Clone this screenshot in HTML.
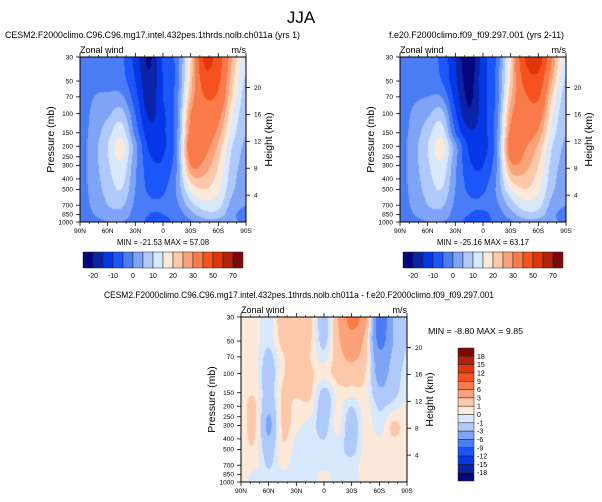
<!DOCTYPE html>
<html><head><meta charset="utf-8">
<style>
html,body{margin:0;padding:0;background:#fff;}
#wrap{position:relative;width:602px;height:502px;overflow:hidden;font-family:"Liberation Sans",Arial,sans-serif;}
canvas{position:absolute;}
svg{position:absolute;left:0;top:0;}
</style></head>
<body>
<div id="wrap">
<canvas id="c1" style="left:80px;top:57px" width="166" height="165"></canvas>
<canvas id="c2" style="left:400px;top:57px" width="166" height="165"></canvas>
<canvas id="c3" style="left:241px;top:317px" width="166" height="165"></canvas>
<svg id="ov" width="602" height="502"></svg>
</div>
<script>
// ---- data ----
const lats = [90,75,60,45,30,15,0,-15,-30,-45,-60,-75,-90];
const levels = [30,50,70,100,150,200,300,500,700,850,1000];
const uCesm = [
[-2,-2,-3,-4,-12,-21,-9,-3,20,52,45,25,12],
[-2,-1,-2,-3,-10,-19,-10,-3,22,45,42,22,9],
[-2,0,1,1,-8,-18,-10,-2,25,40,38,20,7],
[-2,1,4,7,-5,-16,-11,-2,30,36,33,16,6],
[-2,2,8,13,-2,-13,-11,-1,33,35,28,13,5],
[-2,3,10,17,2,-11,-11,-1,37,33,24,10,4],
[-2,3,9,14,1,-8,-9,0,30,28,20,8,3],
[-2,2,7,10,0,-6,-6,1,16,20,16,6,2],
[-2,1,5,6,-1,-4,-4,-1,8,13,12,3,0],
[-3,0,3,3,-2,-5,-5,-3,3,8,8,1,-1],
[-3,-2,0,0,-2,-6,-6,-4,-1,3,3,1,-1]];
const uFe20 = [
[-3,-3,-4,-6,-15,-24,-12,-4,20,50,56,30,12],
[-3,-2,-3,-5,-14,-22,-12,-3,21,43,46,25,9],
[-3,-1,0,0,-12,-21,-12,-3,24,38,41,20,7],
[-3,1,4,7,-9,-19,-12,-2,28,34,35,16,6],
[-2,2,8,13,-5,-14,-12,-1,32,33,29,13,5],
[-2,3,10,17,2,-11,-12,-1,36,31,24,10,4],
[-2,3,9,14,1,-9,-10,0,28,27,20,8,3],
[-2,2,7,10,0,-6,-6,1,15,20,16,6,2],
[-2,1,5,6,-1,-4,-4,-1,7,13,12,3,0],
[-3,0,3,3,-2,-5,-6,-3,3,8,8,1,-1],
[-3,-2,0,0,-2,-7,-6,-4,-1,3,3,1,-1]];
const uDiff = [
[0.5,0.5,-0.5,2,2.5,1.5,-2,3,7,4,-8,-3,-1.2],
[0.5,0.5,-0.7,1.5,2,1.2,-1.5,2.5,5,2,-7,-3,-1],
[0.5,0.5,-1.5,0.8,1.5,1,-0.5,2,3.5,1.5,-5,-2.5,-0.8],
[0.5,0.5,-2,0.8,1.2,1.2,0.5,1.5,2,1,-4,-2,-0.5],
[0.5,0.8,-2,1.2,1.2,1.2,-1.5,0.5,0.5,0.5,-2.5,-1.5,-0.3],
[0.5,1.2,-2.5,1.2,0.6,0.6,-2,0.3,-1,0.5,-1.2,-0.5,0.3],
[0.5,1.2,-3.5,1.2,0.3,-0.4,-1.5,0.3,-2,0.5,-0.5,1.2,0.5],
[0.5,0.8,-2,0.8,-0.5,-0.5,-0.7,-0.4,-1.5,0.5,0.5,0.5,0.5],
[0.5,0.5,-1.2,0.3,-0.5,-0.5,-0.5,-0.4,-0.5,0.5,0.5,0.5,0.5],
[0.5,-0.3,-0.8,-0.3,-0.5,-0.5,0.3,-0.5,-0.5,0.5,0.5,0.5,0.5],
[0.5,-0.5,-0.8,-0.5,-0.5,-0.5,0.3,-0.5,-0.5,0.3,0.5,0.5,0.5]];
const boundsWind = [-20,-15,-10,-5,0,5,10,15,20,25,30,40,50,60,70];
const boundsDiff = [-18,-15,-12,-9,-6,-3,-1,0,1,3,6,9,12,15,18];
const windLabels = ["-20","-10","0","10","20","30","50","70"];
const diffLabels = ["-18","-15","-12","-9","-6","-3","-1","0","1","3","6","9","12","15","18"];
const palette = ["#05067d","#0a23a8","#0537e6","#1c55fa","#4a7cf5","#7fa4f7","#b0c9fb","#d8e8fd","#fde9d9","#fdc8a9","#fba27a","#f97b4a","#f6521f","#e3350a","#b5200c","#7f0808"];
const presTicks = [30,50,70,100,150,200,250,300,400,500,700,850,1000];
const latTicks = [90,60,30,0,-30,-60,-90];
const kmTicks = [4,8,12,16,20];

// ---- scales ----
const W=166,H=165;
const lp0=Math.log(30), lp1=Math.log(1000);
function yOf(p){return (Math.log(p)-lp0)/(lp1-lp0)*H;}
function xOf(lat){return (90-lat)/180*W;}
function boxOf(v,b){let k=0;for(const t of b){if(v>=t)k++;}return k;}
function hex(c){return [parseInt(c.substr(1,2),16),parseInt(c.substr(3,2),16),parseInt(c.substr(5,2),16)];}
const rgb = palette.map(hex);
const lvY = levels.map(yOf);

function cr(p0,p1,p2,p3,t){return 0.5*((2*p1)+(-p0+p2)*t+(2*p0-5*p1+4*p2-p3)*t*t+(-p0+3*p1-3*p2+p3)*t*t*t);}
function rowInterp(row,c,fx){const n=row.length;const g=k=>row[Math.max(0,Math.min(n-1,k))];return cr(g(c-1),g(c),g(c+1),g(c+2),fx);}

function drawField(id,grid,bounds){
  const cv=document.getElementById(id),ctx=cv.getContext('2d');
  const img=ctx.createImageData(W,H);
  const nr=levels.length;
  for(let j=0;j<H;j++){
    const y=j+0.5;
    let r=0;while(r<nr-2&&lvY[r+1]<y)r++;
    let fy=(y-lvY[r])/(lvY[r+1]-lvY[r]);fy=Math.max(0,Math.min(1,fy));
    for(let i=0;i<W;i++){
      const dl=(i+0.5)/W*180;
      let c=Math.floor(dl/15);if(c>11)c=11;
      const fx=(dl-c*15)/15;
      const vals=[-1,0,1,2].map(d=>rowInterp(grid[Math.max(0,Math.min(nr-1,r+d))],c,fx));
      const v=cr(vals[0],vals[1],vals[2],vals[3],fy);
      const col=rgb[boxOf(v,bounds)];
      const o=(j*W+i)*4;img.data[o]=col[0];img.data[o+1]=col[1];img.data[o+2]=col[2];img.data[o+3]=255;
    }
  }
  ctx.putImageData(img,0,0);
}
drawField('c1',uCesm,boundsWind);
drawField('c2',uFe20,boundsWind);
drawField('c3',uDiff,boundsDiff);

// ---- overlay ----
const NS="http://www.w3.org/2000/svg";
const ov=document.getElementById('ov');
function el(tag,attrs,parent){const e=document.createElementNS(NS,tag);for(const k in attrs)e.setAttribute(k,attrs[k]);(parent||ov).appendChild(e);return e;}
function txt(x,y,s,size,anchor,parent,extra){const t=el('text',Object.assign({x:x,y:y,'font-size':size,'text-anchor':anchor||'start','font-family':'Liberation Sans, Arial, sans-serif',fill:'#000'},extra||{}),parent);t.textContent=s;return t;}
function latLabel(l){return l===0?"0":(Math.abs(l)+(l>0?"N":"S"));}

function axes(px,py,name){
  const g=el('g',{transform:`translate(${px},${py})`});
  
  
  el('rect',{x:0,y:0,width:W,height:H,fill:'none',stroke:'#000','stroke-width':1},g);
  presTicks.forEach(p=>{const y=yOf(p);el('line',{x1:-4,y1:y,x2:0,y2:y,stroke:'#000','stroke-width':0.8},g);
    const t=txt(-7,y+2.3,String(p),6.5,'end',g);
    
    });
  latTicks.forEach(l=>{const x=xOf(l);el('line',{x1:x,y1:H,x2:x,y2:H+4,stroke:'#000','stroke-width':0.8},g);
    el('line',{x1:x,y1:0,x2:x,y2:-4,stroke:'#000','stroke-width':0.8},g);
    const t=txt(x,H+11,latLabel(l),6.5,'middle',g);
    
    });
  for(let l=80;l>-90;l-=10){if(l%30===0)continue;const x=xOf(l);
    el('line',{x1:x,y1:H,x2:x,y2:H+2,stroke:'#000','stroke-width':0.6},g);
    el('line',{x1:x,y1:0,x2:x,y2:-2,stroke:'#000','stroke-width':0.6},g);}
  kmTicks.forEach(k=>{const y=yOf(1000*Math.exp(-k/7));el('line',{x1:W,y1:y,x2:W+4,y2:y,stroke:'#000','stroke-width':0.8},g);
    const t=txt(W+8,y+2.3,String(k),6.5,'start',g);
    
    });
  const a=txt(-26,H/2,'Pressure (mb)',10.5,'middle',g,{transform:`rotate(-90 -26 ${H/2})`});
  
  
  const b=txt(W+26,H/2,'Height (km)',10.5,'middle',g,{transform:`rotate(-90 ${W+26} ${H/2})`});
  
  
  const z=txt(0,-4,'Zonal wind',9,'start',g);
  
  
  const u=txt(W,-4,'m/s',9,'end',g);
  
  
}
axes(80,57,'cesm2');
axes(400,57,'fe20');
axes(241,317,'difference');

function hbar(x0,y0,name){
  const g=el('g',{transform:`translate(${x0},${y0})`});
  
  
  const bw=10,bh=16;
  palette.forEach((c,i)=>{const r=el('rect',{x:i*bw,y:0,width:bw,height:bh,fill:c,stroke:'#222','stroke-width':0.5},g);
    
    });
  windLabels.forEach((s,k)=>{txt((2*k+1)*bw,bh+10,s,7,'middle',g);});
}
hbar(83,252,'colorbar-cesm2');
hbar(403,252,'colorbar-fe20');

(function(){
  const g=el('g',{transform:'translate(458,348)'});
  
  
  const bh=133/16;
  palette.slice().reverse().forEach((c,i)=>{const r=el('rect',{x:0,y:i*bh,width:16,height:bh,fill:c,stroke:'#222','stroke-width':0.5},g);
    
    });
  diffLabels.slice().reverse().forEach((s,k)=>{txt(19,(k+1)*bh+2.5,s,7,'start',g);});
})();

function label(x,y,s,size,anchor,name,len){const ex={'xml:space':'preserve'};if(len){ex.textLength=len;ex.lengthAdjust='spacingAndGlyphs';}
  const t=txt(x,y,s,size,anchor,null,ex);}
label(301,23,'JJA',17,'middle','figure-title');
label(5,38,'CESM2.F2000climo.C96.C96.mg17.intel.432pes.1thrds.nolb.ch011a (yrs 1)',9.3,'start','cesm2-panel-title',295);
label(389,38,'f.e20.F2000climo.f09_f09.297.001 (yrs 2-11)',9.3,'start','fe20-panel-title',175);
label(104,298,'CESM2.F2000climo.C96.C96.mg17.intel.432pes.1thrds.nolb.ch011a - f.e20.F2000climo.f09_f09.297.001',9.3,'start','difference-panel-title',390);
label(117,245,'MIN = -21.53  MAX =  57.08',8.5,'start','cesm2-min-max',92);
label(437,245,'MIN = -25.16  MAX =  63.17',8.5,'start','fe20-min-max',92);
label(428,334,'MIN =  -8.80  MAX =   9.85',8,'start','difference-min-max',95);
</script>
</body></html>
